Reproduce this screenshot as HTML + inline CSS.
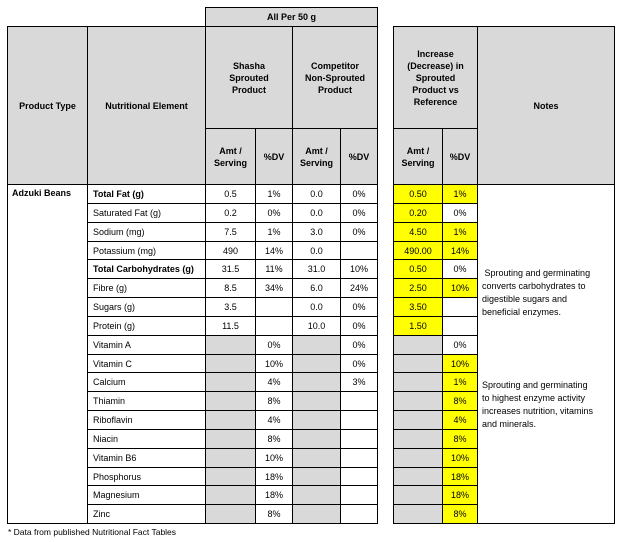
<!DOCTYPE html>
<html><head><meta charset="utf-8">
<style>
body{margin:0;background:#fff;width:623px;height:542px;position:relative;overflow:hidden;font-family:"Liberation Sans",sans-serif;font-size:9px;color:#000}
.c{position:absolute;box-sizing:border-box;display:flex;align-items:center;justify-content:center;text-align:center;line-height:12px}
.b{border:1px solid #000}
.g{background:#d9d9d9}
.y{background:#ffff00}
.bold{font-weight:bold}
.l{justify-content:flex-start;padding-left:5px;text-align:left}
</style></head>
<body>
<div id="root"></div>
<div class="c" style="left:8px;top:525px;height:14px;font-size:8.5px">* Data from published Nutritional Fact Tables</div>
<script>
const elements=["Total Fat (g)","Saturated Fat (g)","Sodium (mg)","Potassium (mg)","Total Carbohydrates (g)","Fibre (g)","Sugars (g)","Protein (g)","Vitamin A","Vitamin C","Calcium","Thiamin","Riboflavin","Niacin","Vitamin B6","Phosphorus","Magnesium","Zinc"];
const boldRows=[0,4];
const shashaAmt=["0.5","0.2","7.5","490","31.5","8.5","3.5","11.5",null,null,null,null,null,null,null,null,null,null];
const shashaDV=["1%","0%","1%","14%","11%","34%","","","0%","10%","4%","8%","4%","8%","10%","18%","18%","8%"];
const compAmt=["0.0","0.0","3.0","0.0","31.0","6.0","0.0","10.0",null,null,null,null,null,null,null,null,null,null];
const compDV=["0%","0%","0%","","10%","24%","0%","0%","0%","0%","3%","","","","","","",""];
const incAmt=["0.50","0.20","4.50","490.00","0.50","2.50","3.50","1.50",null,null,null,null,null,null,null,null,null,null];
const incDV=["1%","0%","1%","14%","0%","10%","","","0%","10%","1%","8%","4%","8%","10%","18%","18%","8%"];
const incDVhi=[1,0,1,1,0,1,0,0,0,1,1,1,1,1,1,1,1,1];
const X=[7,87,205,255,292,340,377,393,442,477,614];
const root=document.getElementById('root');
function cell(x,y,w,h,cls,txt,name){
  const d=document.createElement('div');
  d.className='c '+cls;
  d.style.cssText=`left:${x}px;top:${y}px;width:${w+1}px;height:${h+1}px`;
  d.innerHTML=txt||'';
  
  
  root.appendChild(d);return d;
}
cell(X[2],7,X[6]-X[2],19,'b g bold','All Per 50 g','header-all-per-50g');
cell(X[0],26,X[1]-X[0],158,'b g bold','Product Type','header-product-type');
cell(X[1],26,X[2]-X[1],158,'b g bold','Nutritional Element','header-nutritional-element');
cell(X[2],26,X[4]-X[2],102,'b g bold','Shasha<br>Sprouted<br>Product','header-shasha');
cell(X[4],26,X[6]-X[4],102,'b g bold','Competitor<br>Non-Sprouted<br>Product','header-competitor');
cell(X[7],26,X[9]-X[7],102,'b g bold','Increase<br>(Decrease) in<br>Sprouted<br>Product vs<br>Reference','header-increase');
cell(X[9],26,X[10]-X[9],158,'b g bold','Notes','header-notes');
const subs=[[2,'Amt /<br>Serving'],[3,'%DV'],[4,'Amt /<br>Serving'],[5,'%DV'],[7,'Amt /<br>Serving'],[8,'%DV']];
subs.forEach(([i,t])=>cell(X[i],128,X[i+1]-X[i],56,'b g bold',t,'subheader-'+(t.indexOf('DV')>=0?'dv':'amt')));
const top0=184, rh=(523-184)/elements.length;
const tot=elements.length*rh;
const pt=cell(X[0],top0,X[1]-X[0],tot,'b bold','Adzuki Beans','product-adzuki-beans');
pt.style.alignItems='flex-start';pt.style.justifyContent='flex-start';pt.style.padding='2px 0 0 4px';
const nt=cell(X[9],top0,X[10]-X[9],tot,'b','','notes-cell');
elements.forEach((e,i)=>{
  const y=Math.round(top0+i*rh), h=Math.round(top0+(i+1)*rh)-y;
  cell(X[1],y,X[2]-X[1],h,'b l'+(boldRows.includes(i)?' bold':''),e,'element-label');
  cell(X[2],y,X[3]-X[2],h,'b'+(shashaAmt[i]===null?' g':''),shashaAmt[i]||'','shasha-amt');
  cell(X[3],y,X[4]-X[3],h,'b',shashaDV[i],'shasha-dv');
  cell(X[4],y,X[5]-X[4],h,'b'+(compAmt[i]===null?' g':''),compAmt[i]||'','competitor-amt');
  cell(X[5],y,X[6]-X[5],h,'b',compDV[i],'competitor-dv');
  cell(X[7],y,X[8]-X[7],h,'b'+(incAmt[i]===null?' g':' y'),incAmt[i]||'','increase-amt');
  cell(X[8],y,X[9]-X[8],h,'b'+(incDVhi[i]?' y':''),incDV[i],'increase-dv');
});
const n1=cell(482,263,132,58,'l','&nbsp;Sprouting and germinating<br>converts carbohydrates to<br>digestible sugars and<br>beneficial enzymes.','note-carbohydrates');
n1.style.padding='0';n1.style.lineHeight='13px';
const n2=cell(482,375,132,58,'l','Sprouting and germinating<br>to highest enzyme activity<br>increases nutrition, vitamins<br>and minerals.','note-enzymes');
n2.style.padding='0';n2.style.lineHeight='13px';
</script>
</body></html>
